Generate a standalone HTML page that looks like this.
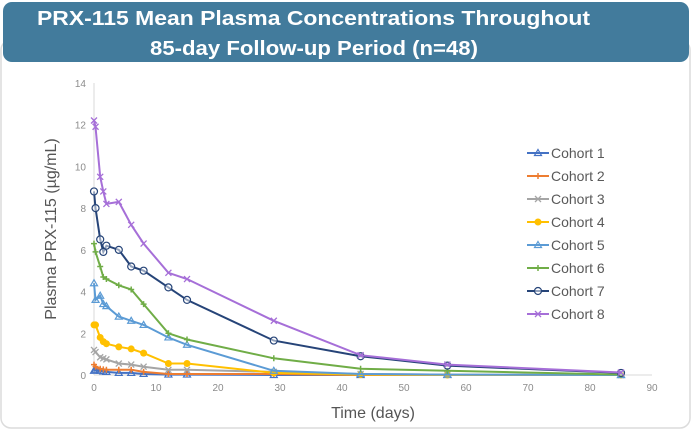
<!DOCTYPE html>
<html><head><meta charset="utf-8"><style>
body{margin:0;width:692px;height:430px;background:#fff;overflow:hidden;font-family:"Liberation Sans",sans-serif}
</style></head><body>
<svg width="692" height="430" xmlns="http://www.w3.org/2000/svg" font-family="Liberation Sans, sans-serif">
<rect x="1" y="40" width="689" height="388" rx="10" fill="#fff" stroke="#dcdcdc" stroke-width="1.5"/>
<rect x="3" y="2" width="686" height="60" rx="9" fill="#427b9c"/>
<text x="37" y="25" font-size="20" font-weight="bold" fill="#fff" textLength="553" lengthAdjust="spacingAndGlyphs">PRX-115 Mean Plasma Concentrations Throughout</text>
<text x="150" y="55" font-size="20" font-weight="bold" fill="#fff" textLength="328" lengthAdjust="spacingAndGlyphs">85-day Follow-up Period (n=48)</text>
<g id="axes" font-size="10" fill="#8c8c8c"></g>
<text transform="translate(56,229) rotate(-90)" text-anchor="middle" font-size="16" fill="#555">Plasma PRX-115 (µg/mL)</text>
<text x="373" y="418" text-anchor="middle" font-size="16" fill="#555">Time (days)</text>
<g id="series"></g>
<g id="legend" font-size="14" fill="#595959"></g>
</svg>
<script>
const X=t=>94+t*6.2, Y=v=>375-v*20.86;
const ax=document.getElementById('axes');let h='';
h+=`<line x1="94" y1="83" x2="94" y2="375" stroke="#d9d9d9"/><line x1="94" y1="375" x2="652" y2="375" stroke="#d9d9d9"/>`;
for(let v=0;v<=14;v+=2)h+=`<text x="86" y="${Y(v)+4}" text-anchor="end">${v}</text>`;
for(let t=0;t<=90;t+=10)h+=`<text x="${X(t)}" y="391" text-anchor="middle">${t}</text>`;
ax.innerHTML=h;
const T=[0,0.25,1,1.5,2,4,6,8,12,15,29,43,57,85];
const S=[
['#4472c4','tri',[0.2,0.25,0.2,0.17,0.15,0.1,0.1,0.05,0.02,0.02,0,0,0,0]],
['#ed7d31','plus',[0.5,0.4,0.3,0.27,0.25,0.25,0.25,0.15,0.05,0.05,0.05,0,0,0]],
['#a5a5a5','x',[1.2,1.1,0.85,0.8,0.75,0.55,0.5,0.4,0.25,0.25,0.15,0.05,0.02,0]],
['#ffc000','dot',[2.4,2.4,1.8,1.6,1.5,1.35,1.25,1.05,0.55,0.55,0.1,0.02,0,0]],
['#5b9bd5','tri',[4.4,3.6,3.8,3.4,3.3,2.8,2.6,2.4,1.8,1.45,0.2,0.05,0.02,0]],
['#70ad47','plus',[6.3,5.9,5.2,4.7,4.6,4.3,4.1,3.4,2.0,1.7,0.8,0.3,0.2,0.02]],
['#264478','circ',[8.8,8.0,6.5,5.9,6.2,6.0,5.2,5.0,4.2,3.6,1.65,0.9,0.45,0.1]],
['#a66fd8','x',[12.2,11.9,9.5,8.8,8.2,8.3,7.2,6.3,4.9,4.6,2.6,0.95,0.5,0.12]]];
function mk(c,m,x,y){switch(m){
case 'tri':return `<path d="M${x},${y-3.5}L${x+3.5},${y+2.5}L${x-3.5},${y+2.5}Z" fill="none" stroke="${c}" stroke-width="1.2"/>`;
case 'plus':return `<path d="M${x-3},${y}H${x+3}M${x},${y-3}V${y+3}" stroke="${c}" stroke-width="1.5"/>`;
case 'x':return `<path d="M${x-3},${y-3}L${x+3},${y+3}M${x+3},${y-3}L${x-3},${y+3}" stroke="${c}" stroke-width="1.3"/>`;
case 'dot':return `<circle cx="${x}" cy="${y}" r="3.5" fill="${c}"/>`;
case 'circ':return `<circle cx="${x}" cy="${y}" r="3.5" fill="#fff" fill-opacity="0.5" stroke="${c}" stroke-width="1.2"/>`;}}
let s='';
S.forEach(([c,m,d])=>{const p=d.map((v,i)=>`${X(T[i]).toFixed(1)},${Y(v).toFixed(1)}`).join(' ');
s+=`<polyline points="${p}" fill="none" stroke="${c}" stroke-width="2"/>`;
d.forEach((v,i)=>s+=mk(c,m,X(T[i]),Y(v)));});
document.getElementById('series').innerHTML=s;
let l='';S.forEach(([c,m],i)=>{const y=153+i*23;
l+=`<line x1="527" y1="${y}" x2="549" y2="${y}" stroke="${c}" stroke-width="2"/>`+mk(c,m,538,y)+`<text x="551" y="${y+5}">Cohort ${i+1}</text>`;});
document.getElementById('legend').innerHTML=l;
</script>
</body></html>
